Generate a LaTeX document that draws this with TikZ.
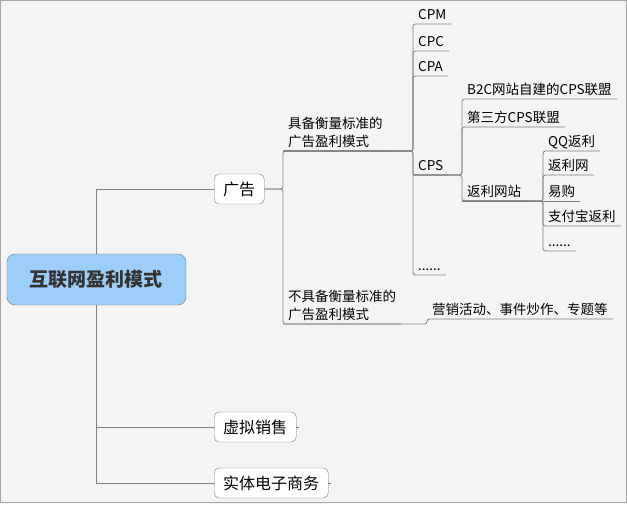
\documentclass[tikz,border=0pt]{standalone}
\usepackage{fontspec}
\setmainfont{Noto Sans CJK SC}
\usetikzlibrary{positioning}
\definecolor{rootblue}{RGB}{157,206,250}
\definecolor{linegray}{RGB}{128,128,128}
\definecolor{boxgray}{RGB}{120,120,120}
\definecolor{bggray}{RGB}{244,244,244}
\tikzset{
    x=1pt, y=-1pt, % pixel-like units, y grows downwards
    trunk/.style={draw=linegray, line width=0.8pt}, % elbow lines from the root
    link/.style={draw=linegray, line width=0.8pt, rounded corners=2.5pt}, % curved lines between topics
    root/.style={draw=boxgray, fill=rootblue, rounded corners=8pt, minimum width=179pt, minimum height=51pt, font=\fontsize{19}{22}\selectfont\bfseries, text=black!80},
    branch/.style={draw=boxgray, fill=white, rounded corners=5pt, anchor=west, minimum height=30pt, inner xsep=9pt, font=\fontsize{16}{19}\selectfont},
    topic/.style={anchor=south west, inner xsep=5pt, inner ysep=1.5pt, text depth=3pt, align=left, font=\fontsize{13.5}{18}\selectfont}, % underlined topics
}

\begin{document}
\begin{tikzpicture}
    \fill[bggray] (0,0) rectangle (627,504);
    \draw[linegray!70] (0.5,0.5) rectangle (626,502.5);
    \useasboundingbox (0,0) rectangle (627,504);

    \node[root] (web) at (96.5,279.5) {互联网盈利模式};
    \node[branch] (ad) at (214,189) {广告};
    \node[branch] (virt) at (214,427) {虚拟销售};
    \node[branch] (phys) at (214,483) {实体电子商务};

    \node[topic] (std) at (283,151) {具备衡量标准的\\广告盈利模式};
    \node[topic] (nstd) at (283,324) {不具备衡量标准的\\广告盈利模式};
    \node[topic] (promo) at (427,319) {营销活动、事件炒作、专题等};

    \node[topic] (cpm) at (413,24) {CPM};
    \node[topic] (cpc) at (413,51) {CPC};
    \node[topic] (cpa) at (413,76) {CPA};
    \node[topic] (cps) at (413,175) {CPS};
    \node[topic] (more) at (413,275) {......};

    \node[topic] (b2c) at (462,99) {B2C网站自建的CPS联盟};
    \node[topic] (third) at (462,127) {第三方CPS联盟};
    \node[topic] (rebate) at (462,201) {返利网站};

    \node[topic] (qq) at (543,151) {QQ返利};
    \node[topic] (flw) at (543,175) {返利网};
    \node[topic] (yigou) at (543,201) {易购};
    \node[topic] (alipay) at (543,226) {支付宝返利};
    \node[topic] (etc) at (543,251) {......};

    % root to main branches
    \draw[trunk] (web.north) |- (ad.west);
    \draw[trunk] (web.south) |- (virt.west);
    \draw[trunk] (web.south) |- (phys.west);
    \draw[trunk] (virt.east) -- ++(3,0);
    \draw[trunk] (phys.east) -- ++(3,0);

    % 广告
    \foreach \c in {std,nstd}
        \draw[link] (ad.east) -- (ad.east -| \c.south west) |- (\c.south east);
    \foreach \c in {cpm,cpc,cpa,cps,more}
        \draw[link] (std.south west) -- (std.south west -| \c.south west) |- (\c.south east);
    \draw[link] (nstd.south west) -- (nstd.south west -| promo.south west) |- (promo.south east);

    % CPS
    \foreach \c in {b2c,third,rebate}
        \draw[link] (cps.south west) -- (cps.south west -| \c.south west) |- (\c.south east);
    \foreach \c in {qq,flw,alipay,etc}
        \draw[link] (rebate.south west) -- (rebate.south west -| \c.south west) |- (\c.south east);
    \draw[link] (rebate.south west) -- (yigou.south east);
\end{tikzpicture}
\end{document}
